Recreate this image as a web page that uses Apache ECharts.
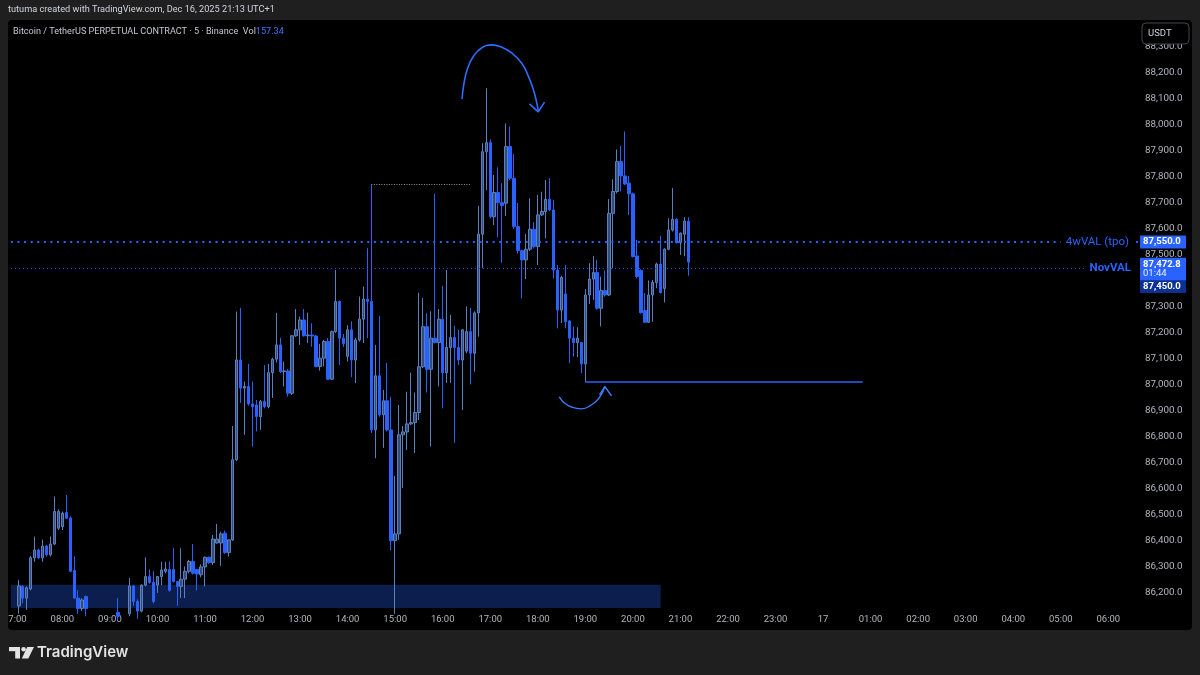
<!DOCTYPE html>
<html><head><meta charset="utf-8">
<script src="https://cdn.jsdelivr.net/npm/echarts@6/dist/echarts.min.js"></script>
<style>html,body{margin:0;padding:0;background:#1f1f1f;}#c{width:1200px;height:675px;}</style>
</head><body><div id="c"></div>
<script>
// ---- time axis ----
const axisStart = '06:55';      // first slot of the time axis
const slotMinutes = 5;
const slotCount = 286;
const dayLabel = '17';          // label shown at 00:00 (Dec 17)
const firstCandle = '07:05';

// ---- 5m candles [open, close, low, high] from 07:05 to 21:10 ----
const candles = [
[86150,86227,86120,86250],[86225,86180,86160,86230],[86180,86220,86135,86225],[86215,86335,86210,86342],
[86335,86365,86320,86417],[86365,86335,86330,86370],[86335,86380,86320,86405],[86380,86347,86340,86385],
[86347,86388,86340,86417],[86388,86513,86384,86571],[86449,86513,86442,86522],[86455,86507,86442,86513],
[86509,86487,86485,86577],[86488,86283,86280,86495],[86286,86180,86178,86340],[86180,86140,86120,86210],
[86140,86173,86130,86180],[86186,86140,86110,86190],[86130,86105,86080,86138],[86105,86085,86060,86125],
[86085,86100,86050,86120],[86100,86070,86045,86115],[86070,86090,86055,86110],[86090,86110,86075,86130],
[86110,86125,86095,86138],[86125,86110,86095,86180],[86110,86095,86070,86130],[86095,86120,86080,86135],
[86120,86227,86110,86257],[86227,86167,86150,86230],[86167,86130,86100,86175],[86130,86230,86125,86232],
[86230,86263,86225,86337],[86263,86240,86235,86290],[86240,86167,86160,86283],[86230,86263,86200,86265],
[86263,86288,86230,86320],[86283,86292,86275,86320],[86290,86210,86205,86320],[86290,86244,86240,86372],
[86244,86225,86150,86246],[86225,86253,86180,86372],[86253,86283,86180,86302],[86283,86321,86275,86327],
[86321,86276,86270,86388],[86290,86273,86210,86292],[86270,86300,86260,86310],[86300,86337,86225,86340],
[86337,86317,86312,86340],[86317,86407,86307,86423],[86392,86407,86390,86465],[86392,86427,86304,86436],
[86430,86355,86350,86440],[86355,86404,86340,86406],[86404,86712,86400,86842],[86712,87096,86708,87282],
[87096,86988,86931,87296],[86988,86994,86808,87013],[86994,86927,86920,87081],[86927,86917,86763,87013],
[86923,86878,86821,86942],[86878,86936,86827,86942],[86936,86917,86910,87077],[86917,87047,86910,87081],
[87047,87099,86950,87104],[87099,87154,87086,87277],[87154,87051,87046,87181],[87051,87054,86994,87090],
[87054,86968,86955,87061],[86968,87189,86962,87192],[87189,87212,87185,87292],[87212,87250,87154,87263],
[87250,87189,87186,87292],[87189,87192,87161,87278],[87192,87188,87147,87237],[87188,87071,87068,87192],
[87071,87103,87055,87158],[87103,87167,87071,87173],[87167,87022,87019,87180],[87022,87205,87019,87209],
[87205,87321,87200,87442],[87321,87180,87077,87325],[87180,87158,87146,87196],[87110,87212,87090,87230],
[87212,87096,87030,87244],[87096,87173,87007,87181],[87173,87253,87167,87340],[87253,87330,87161,87378],
[87330,87321,87180,87526],[87321,86827,86815,87772],[86827,87035,86718,87154],[87035,86885,86878,87265],
[86885,86939,86758,86981],[86939,86827,86821,87085],[86827,86401,86365,86955],[86401,86427,86120,86650],
[86427,86808,86404,86923],[86808,86819,86603,86842],[86819,86850,86750,86974],[86850,86855,86846,87047],
[86855,86894,86738,86971],[86894,87070,86865,87355],[87070,87224,87064,87334],[87224,87060,86971,87276],
[87060,87180,86763,87283],[87180,87163,87160,87735],[87163,87253,86994,87292],[87253,87047,86910,87381],
[87047,87144,87008,87442],[87144,87182,87008,87270],[87182,87144,86777,87227],[87144,87096,87077,87212],
[87096,87212,86904,87214],[87130,87205,87122,87302],[87205,87122,87002,87296],[87122,87277,87051,87283],
[87277,87580,87186,87689],[87580,87897,87449,87930],[87897,87932,87750,88141],[87932,87647,87641,87945],
[87647,87740,87615,87808],[87740,87701,87568,87837],[87701,87690,87470,87776],[87699,87917,87650,88006],
[87917,87795,87788,87994],[87795,87609,87600,87888],[87609,87517,87505,87700],[87517,87481,87333,87520],
[87481,87522,87407,87581],[87522,87599,87515,87718],[87599,87532,87525,87626],[87532,87654,87461,87731],
[87654,87667,87650,87743],[87667,87714,87564,87788],[87714,87673,87668,87795],[87673,87442,87410,87712],
[87442,87288,87218,87461],[87288,87414,87238,87420],[87350,87243,87218,87461],[87246,87180,87084,87250],
[87180,87163,87109,87225],[87163,87180,87107,87222],[87163,87081,87045,87163],[87081,87346,87011,87368],
[87346,87407,87311,87468],[87407,87432,87327,87496],[87432,87295,87290,87481],[87295,87363,87225,87417],
[87363,87346,87340,87440],[87346,87660,87342,87715],[87660,87744,87449,87791],[87744,87859,87737,87906],
[87859,87804,87744,87919],[87804,87773,87769,87975],[87776,87735,87654,87804],[87735,87494,87490,87740],
[87496,87417,87410,87558],[87440,87278,87275,87445],[87286,87241,87238,87353],[87241,87346,87238,87402],
[87346,87394,87243,87404],[87394,87465,87372,87470],[87465,87355,87352,87573],[87371,87522,87317,87526],
[87522,87596,87519,87641],[87596,87637,87590,87757],[87637,87547,87544,87641],[87547,87584,87500,87586],
[87580,87630,87495,87645],[87630,87472.8,87420,87645]
];

// ---- price scale ----
const priceMin = 86142;
const priceMax = 88396;

// ---- drawn levels ----
const level4wVAL = 87550;
const levelNovVAL = 87450;
const levelHighRay = 87772;   // gray dotted ray from the 14:30 high
const levelLowRay = 87012;    // blue ray from the 19:00 low
const boxLow = 86231;         // top of the blue zone
const countdown = '01:44';

// ---- freehand arrows, [slot index, price] ----
const arcTop = [[113.9,88100],[114.3,88154],[115.3,88219],[116.8,88265],[118.8,88296],[121.3,88308],[123.8,88300],[126.4,88277],[128.9,88238],[130.6,88188],[131.9,88135],[132.9,88073],[133.1,88050]];
const arrowTop = [[130.9,88081],[133.1,88050],[134.7,88088]];
const arcBottom = [[138.4,86954],[139.7,86931],[141.5,86915],[144.0,86908],[146.5,86923],[148.5,86950],[149.9,86994]];
const arrowBottom = [[148.6,86962],[149.9,86994],[151.6,86958]];

// ---- build ----
const pad = n => String(n).padStart(2, '0');
const startMin = parseInt(axisStart) * 60 + parseInt(axisStart.slice(3));
const categories = [];
for (let k = 0; k < slotCount; k++) {
  const m = (startMin + k * slotMinutes) % 1440;
  categories.push(pad(Math.floor(m / 60)) + ':' + pad(m % 60));
}
const c0 = categories.indexOf(firstCandle);
const seriesData = categories.slice(0, c0 + candles.length).map((t, j) =>
  j < c0 ? ['-', '-', '-', '-'] : candles[j - c0]);
const lastClose = candles[candles.length - 1][1];

function fmtPrice(v) {
  const s = Number(v).toFixed(1).split('.');
  return s[0].replace(/\B(?=(\d{3})+(?!\d))/g, ',') + '.' + s[1];
}

const FONT = 'Roboto, "Liberation Sans", sans-serif';
const BLUE = '#2962ff';
const NOLINE = {color: 'rgba(0,0,0,0)', width: 1, type: 'solid'};

const chart = echarts.init(document.getElementById('c'), null, {renderer: 'canvas'});
chart.setOption({
  backgroundColor: '#1f1f1f',
  animation: false,
  textStyle: {fontFamily: FONT},
  title: [
    {text: 'tutuma created with TradingView.com, Dec 16, 2025 21:13 UTC+1', left: 8, top: 5, padding: 0,
      textStyle: {color: '#d1d4dc', fontSize: 9.2, fontWeight: 'normal', fontFamily: FONT}, z: 200},
    {text: '{a|Bitcoin / TetherUS PERPETUAL CONTRACT · 5 · Binance  Vol}{b|157.34}', left: 13, top: 27, padding: 0,
      textStyle: {fontWeight: 'normal', rich: {a: {color: '#c5c8d0', fontSize: 9.1, fontWeight: 'normal', fontFamily: FONT}, b: {color: '#3d78ff', fontSize: 9.1, fontWeight: 'normal', fontFamily: FONT}}}, z: 200},
    {text: 'TradingView', left: 37, top: 645, padding: 0,
      textStyle: {color: '#e3e3e3', fontSize: 15, fontWeight: 600, fontFamily: 'Inter, Roboto, sans-serif'}, z: 200}
  ],
  graphic: [
    {type: 'rect', z: -10, shape: {x: 8, y: 20, width: 1184, height: 610, r: 4}, style: {fill: '#000'}},
    {type: 'rect', z: 100, shape: {x: 0, y: 0, width: 8, height: 675}, style: {fill: '#1f1f1f'}},
    {type: 'group', z: 100, children: [
      {type: 'rect', z: 100, shape: {x: 1142, y: 23, width: 47, height: 21, r: 4}, style: {fill: '#000', stroke: '#434651', lineWidth: 1}},
      {type: 'text', z: 101, x: 1148, y: 33.5, style: {text: 'USDT', fill: '#d1d4dc', fontSize: 9.5, fontFamily: FONT, verticalAlign: 'middle'}}
    ]},
    {type: 'group', z: 100, x: 9, y: 647, children: [
      {type: 'rect', shape: {x: 0, y: 0, width: 11, height: 4.2}, style: {fill: '#e3e3e3'}},
      {type: 'rect', shape: {x: 6.2, y: 0, width: 4.8, height: 11.5}, style: {fill: '#e3e3e3'}},
      {type: 'circle', shape: {cx: 14.6, cy: 2.3, r: 2.3}, style: {fill: '#e3e3e3'}},
      {type: 'polygon', shape: {points: [[18.2, 0], [25, 0], [19.3, 11.5], [12.8, 11.5]]}, style: {fill: '#e3e3e3'}}
    ]}
  ],
  grid: {left: 6, right: 58, top: 22, bottom: 67, containLabel: false},
  xAxis: [
    {type: 'category', data: categories, boundaryGap: true,
      axisLine: {show: false}, axisTick: {show: false}, splitLine: {show: false},
      axisLabel: {color: '#b2b5be', fontSize: 9.5, margin: 7,
        interval: (i, v) => v.endsWith(':00'),
        formatter: v => v === '00:00' ? dayLabel : v}},
    {type: 'value', show: false, min: -0.5, max: slotCount - 0.5}
  ],
  yAxis: {type: 'value', position: 'right', min: priceMin, max: priceMax, splitNumber: 20,
    axisLine: {show: false}, axisTick: {show: false}, splitLine: {show: false},
    axisLabel: {color: '#b2b5be', fontSize: 9.8, margin: 3, showMinLabel: false, showMaxLabel: false,
      formatter: v => fmtPrice(v)}},
  series: [
    {type: 'candlestick', data: seriesData, barWidth: 3, clip: true,
      itemStyle: {color: '#324e80', color0: BLUE, borderColor: '#5a80c0', borderColor0: BLUE, borderWidth: 1},
      markArea: {silent: true, itemStyle: {color: 'rgba(41,98,255,0.30)'},
        data: [[{coord: [axisStart, boxLow]}, {coord: ['20:35', priceMin]}]]},
      markLine: {silent: true, symbol: ['none', 'none'], animation: false,
        data: [
          [{coord: [axisStart, level4wVAL], lineStyle: {color: BLUE, width: 2, type: [2, 4.6]},
            label: {show: true, position: 'end', distance: 5, formatter: '4wVAL (tpo)', color: BLUE, fontSize: 11.5, fontFamily: FONT}},
           {coord: ['05:00', level4wVAL]}],
          [{coord: ['06:35', level4wVAL], lineStyle: {color: BLUE, width: 2, type: [2, 8]}, label: {show: false}},
           {coord: ['06:40', level4wVAL]}],
          [{coord: [axisStart, levelNovVAL], lineStyle: {color: '#1f4fd6', width: 1, type: [1.2, 2.8]},
            label: {show: true, position: 'end', distance: 5, formatter: 'NovVAL', color: BLUE, fontSize: 11.5, fontWeight: 'bold', fontFamily: FONT}},
           {coord: ['05:30', levelNovVAL]}],
          [{coord: ['14:30', levelHighRay], lineStyle: {color: '#9598a1', width: 1, type: [1, 1.5]}, label: {show: false}},
           {coord: ['16:35', levelHighRay]}],
          [{coord: ['19:00', levelLowRay], lineStyle: {color: BLUE, width: 1.5, type: 'solid'}, label: {show: false}},
           {coord: ['00:50', levelLowRay]}],
          [{coord: ['06:35', level4wVAL], lineStyle: NOLINE,
            label: {show: true, position: 'end', distance: 0, formatter: () => fmtPrice(level4wVAL),
              color: '#fff', backgroundColor: BLUE, padding: [2, 3, 1, 3], fontSize: 9.5, fontWeight: 'bold', fontFamily: FONT, width: 40}},
           {coord: ['06:40', level4wVAL]}],
          [{coord: ['06:35', levelNovVAL], lineStyle: NOLINE,
            label: {show: true, position: 'end', distance: 0, formatter: () => '{s| }\n{b|' + fmtPrice(levelNovVAL) + '}',
              rich: {s: {height: 37, lineHeight: 37, fontSize: 2},
                b: {color: '#fff', backgroundColor: '#0d3192', padding: [2, 3, 1, 3], fontSize: 9.5, fontWeight: 'bold', fontFamily: FONT, width: 40, lineHeight: 11}}}},
           {coord: ['06:40', levelNovVAL]}],
          [{coord: ['06:35', lastClose], lineStyle: NOLINE,
            label: {show: true, position: 'end', distance: 0,
              formatter: () => '{s| }\n{p|' + fmtPrice(lastClose) + '}\n{t|' + countdown + '}',
              rich: {s: {height: 14, lineHeight: 14, fontSize: 2},
                p: {color: '#fff', backgroundColor: BLUE, padding: [2, 3, 0, 3], fontSize: 9.5, fontWeight: 'bold', fontFamily: FONT, width: 40, lineHeight: 10.5},
                t: {color: '#e8eeff', backgroundColor: BLUE, padding: [0, 3, 2, 3], fontSize: 9.5, fontFamily: FONT, width: 40, lineHeight: 10.5}}}},
           {coord: ['06:40', lastClose]}]
        ]}
    },
    {type: 'line', xAxisIndex: 1, data: arcTop, smooth: true, showSymbol: false, silent: true,
      lineStyle: {color: '#2f6bff', width: 1.6}},
    {type: 'line', xAxisIndex: 1, data: arrowTop, showSymbol: false, silent: true,
      lineStyle: {color: '#2f6bff', width: 1.6}},
    {type: 'line', xAxisIndex: 1, data: arcBottom, smooth: true, showSymbol: false, silent: true,
      lineStyle: {color: '#3a7bff', width: 1.4}},
    {type: 'line', xAxisIndex: 1, data: arrowBottom, showSymbol: false, silent: true,
      lineStyle: {color: '#3a7bff', width: 1.4}}
  ]
});
</script></body></html>
